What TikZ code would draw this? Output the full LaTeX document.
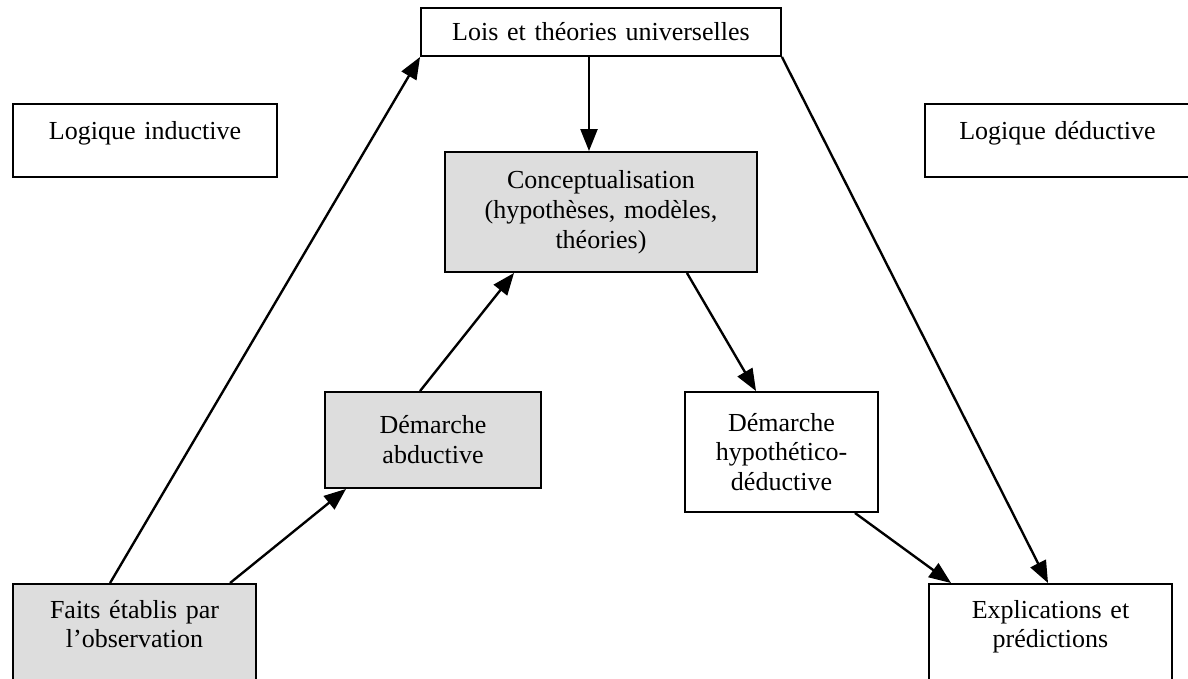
\documentclass[tikz,border=0pt]{standalone}
\usepackage{fontspec}
\setmainfont{Liberation Serif}
\usetikzlibrary{arrows.meta}

\definecolor{grisclair}{RGB}{221,221,221}

\tikzset{
  cadre/.style={draw, line width=1.1pt, inner xsep=0pt, inner ysep=0pt,
    align=center, font=\fontsize{14.8}{17}\selectfont},
  grise/.style={cadre, fill=grisclair},
  fleche/.style={line width=1.35pt, -{Triangle[length=0.44cm, width=0.34cm]}}
}

\begin{document}
\begin{tikzpicture}[x=0.02cm, y=-0.02cm]
\useasboundingbox (0,0) rectangle (1188,679);

\def\ya{32}
\def\yb{140.5}
\def\yc{212}
\def\yd{440}
\def\ye{452}
\def\yf{642}

\node[cadre, text width=7.2cm, minimum height=0.96cm] (lois) at (601,\ya) {Lois et théories universelles};
\node[cadre, text width=5.28cm, minimum height=1.46cm, text depth=0.42cm] (induc) at (145,\yb) {Logique inductive};
\node[cadre, text width=5.3cm, minimum height=1.46cm, text depth=0.42cm] (deduc) at (1057.5,\yb) {Logique déductive};
\node[grise, text width=6.24cm, minimum height=2.4cm] (concept) at (601,\yc) {Conceptualisation\\(hypothèses, modèles,\\théories)};
\node[grise, text width=4.32cm, minimum height=1.92cm] (abduc) at (433,\yd) {Démarche\\abductive};
\node[cadre, text width=3.86cm, minimum height=2.4cm] (hypo) at (781.5,\ye) {Démarche\\hypothético-\\déductive};
\node[grise, text width=4.86cm, minimum height=2.32cm, text depth=1.32cm] (faits) at (134.5,\yf) {Faits établis par\\l’observation};
\node[cadre, text width=4.86cm, minimum height=2.32cm, text depth=1.32cm] (expl) at (1050.5,\yf) {Explications et\\prédictions};

% logique inductive
\draw[fleche] ([xshift=1.96cm]faits.north west) -- (lois.south west);
\draw[fleche] ([xshift=4.36cm]faits.north west) -- ([xshift=0.44cm]abduc.south west);
\draw[fleche] ([xshift=1.92cm]abduc.north west) -- ([xshift=1.4cm]concept.south west);

% logique deductive
\draw[fleche] ([xshift=-0.24cm]lois.south) -- ([xshift=-0.24cm]concept.north);
\draw[fleche] (lois.south east) -- ([xshift=2.4cm]expl.north west);
\draw[fleche] ([xshift=-1.42cm]concept.south east) -- ([xshift=1.44cm]hypo.north west);
\draw[fleche] ([xshift=-0.48cm]hypo.south east) -- ([xshift=0.46cm]expl.north west);

\end{tikzpicture}
\end{document}
